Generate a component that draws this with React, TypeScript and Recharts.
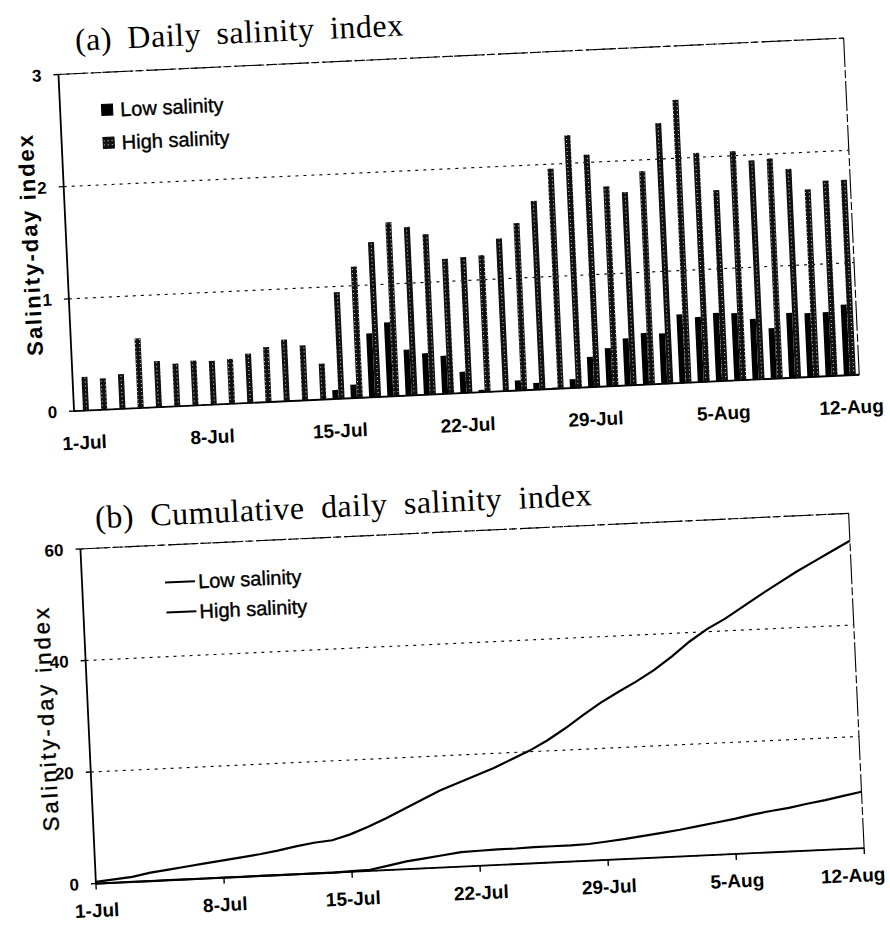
import React from "react";
import {
  BarChart,
  Bar,
  LineChart,
  Line,
  XAxis,
  YAxis,
  CartesianGrid,
  Legend,
  ReferenceLine,
} from "recharts";

// ---------- data ----------
const categories = [
  "1-Jul", "2-Jul", "3-Jul", "4-Jul", "5-Jul", "6-Jul", "7-Jul", "8-Jul", "9-Jul", "10-Jul",
  "11-Jul", "12-Jul", "13-Jul", "14-Jul", "15-Jul", "16-Jul", "17-Jul", "18-Jul", "19-Jul", "20-Jul",
  "21-Jul", "22-Jul", "23-Jul", "24-Jul", "25-Jul", "26-Jul", "27-Jul", "28-Jul", "29-Jul", "30-Jul",
  "31-Jul", "1-Aug", "2-Aug", "3-Aug", "4-Aug", "5-Aug", "6-Aug", "7-Aug", "8-Aug", "9-Aug",
  "10-Aug", "11-Aug", "12-Aug",
];

const tickLabels = ["1-Jul", "8-Jul", "15-Jul", "22-Jul", "29-Jul", "5-Aug", "12-Aug"];

const lowDaily = [
  0, 0, 0, 0, 0, 0, 0, 0, 0, 0, 0, 0, 0, 0,
  0.08, 0.12, 0.57, 0.66, 0.41, 0.37, 0.34, 0.19, 0.02, 0, 0.09, 0.06, 0.01, 0.08,
  0.27, 0.34, 0.42, 0.46, 0.45, 0.61, 0.58, 0.61, 0.6, 0.54, 0.45, 0.58, 0.57, 0.57, 0.63,
];

const highDaily = [
  0.3, 0.28, 0.31, 0.62, 0.41, 0.38, 0.4, 0.39, 0.4, 0.44, 0.49, 0.55, 0.49, 0.32,
  0.95, 1.17, 1.38, 1.55, 1.5, 1.43, 1.2, 1.21, 1.22, 1.36, 1.49, 1.68, 1.96, 2.25,
  2.07, 1.78, 1.72, 1.9, 2.32, 2.52, 2.04, 1.7, 2.04, 1.95, 1.96, 1.86, 1.67, 1.74, 1.74,
];

const lowCumulative = [
  0, 0, 0, 0, 0, 0, 0, 0, 0, 0, 0, 0, 0, 0,
  0.1, 0.2, 0.8, 1.4, 1.8, 2.2, 2.6, 2.7, 2.8, 2.8, 2.9, 2.9, 2.9, 3.0,
  3.3, 3.6, 4.0, 4.4, 4.8, 5.3, 5.8, 6.3, 6.9, 7.4, 7.8, 8.4, 8.9, 9.5, 10.1,
];

const highCumulative = [
  0.3, 0.6, 0.9, 1.5, 1.9, 2.3, 2.7, 3.1, 3.5, 3.9, 4.4, 5.0, 5.5, 5.8,
  6.7, 7.9, 9.3, 10.8, 12.3, 13.8, 15.0, 16.2, 17.4, 18.8, 20.2, 21.9, 23.9, 26.1,
  28.2, 30.0, 31.7, 33.6, 35.9, 38.4, 40.5, 42.2, 44.2, 46.2, 48.1, 50.0, 51.7, 53.4, 55.1,
];

const dailyTicks = [0, 1, 2, 3];
const cumulativeTicks = [0, 20, 40, 60];

const seriesNames = ["Low salinity", "High salinity"];
const titles = ["(a) Daily salinity index", "(b) Cumulative daily salinity index"];
const yTitle = "Salinity-day index";

const dailyData = categories.map((date, i) => ({
  date,
  pos: i,
  low: lowDaily[i],
  high: highDaily[i],
}));

const cumulativeData = categories.map((date, i) => ({
  date,
  low: lowCumulative[i],
  high: highCumulative[i],
}));

const tickPositions = tickLabels.map((l) => categories.indexOf(l));

// ---------- styles ----------
const SANS = "'Liberation Sans', Arial, Helvetica, sans-serif";
const SERIF = "'Liberation Serif', 'Times New Roman', Times, serif";
const INK = "#000";

const xTickStyle = { fill: INK, fontSize: 19, fontWeight: 700, fontFamily: SANS };
const yTickStyle = { fill: INK, fontSize: 17, fontWeight: 700, fontFamily: SANS };
const axisLineStyle = { stroke: INK, strokeWidth: 1.8 };
const tickLineStyle = { stroke: INK, strokeWidth: 1.4 };
const borderDash = "30 3 8 3";

const orderPayload = (payload: any[]) =>
  [...(payload || [])].sort(
    (a, b) => seriesNames.indexOf(a.value) - seriesNames.indexOf(b.value)
  );

const makeYTitle = (xOffset: number, bold: boolean) => (props: any) => {
  const vb = props.viewBox || {};
  const cx = (vb.x || 0) + xOffset;
  const cy = (vb.y || 0) + (vb.height || 0) / 2;
  return (
    <text
      x={cx}
      y={cy}
      transform={`rotate(-90, ${cx}, ${cy})`}
      textAnchor="middle"
      dominantBaseline="central"
      fontFamily={SANS}
      fontSize={22}
      fontWeight={bold ? 700 : 400}
      letterSpacing={bold ? 2 : 3}
      fill={INK}
      stroke={bold ? "none" : INK}
      strokeWidth={bold ? 0 : 0.4}
    >
      {yTitle}
    </text>
  );
};

const DailyLegend = (props: any) => {
  const payload = orderPayload(props.payload);
  return (
    <svg width={150} height={60} style={{ overflow: "visible", display: "block" }}>
      {payload.map((e: any, i: number) => (
        <g key={i} transform={`translate(0, ${i * 33})`}>
          <rect x={0.5} y={6} width={11} height={11} fill={e.color} stroke={INK} strokeWidth={1} />
          <text
            x={19}
            y={11.5}
            dy="0.36em"
            fontFamily={SANS}
            fontSize={20}
            fill={INK}
            stroke={INK}
            strokeWidth={0.4}
          >
            {e.value}
          </text>
        </g>
      ))}
    </svg>
  );
};

const CumulativeLegend = (props: any) => {
  const payload = orderPayload(props.payload);
  return (
    <svg width={150} height={60} style={{ overflow: "visible", display: "block" }}>
      {payload.map((e: any, i: number) => (
        <g key={i} transform={`translate(0, ${i * 30})`}>
          <line x1={0} x2={30} y1={11.5} y2={11.5} stroke={INK} strokeWidth={2} />
          <text
            x={33}
            y={11.5}
            dy="0.36em"
            fontFamily={SANS}
            fontSize={20}
            fill={INK}
            stroke={INK}
            strokeWidth={0.4}
          >
            {e.value}
          </text>
        </g>
      ))}
    </svg>
  );
};

// last label of panel (b) sits at the right edge; keep it inside the page
const CumulativeTick = (props: any) => {
  const { x, y, payload, index, visibleTicksCount } = props;
  const isLast = payload && payload.value === tickLabels[tickLabels.length - 1];
  return (
    <text
      x={x}
      y={y}
      dy="0.71em"
      dx={isLast ? 20 : 0}
      textAnchor={isLast ? "end" : "middle"}
      fill={INK}
      fontSize={19}
      fontWeight={700}
      fontFamily={SANS}
    >
      {payload ? payload.value : ""}
    </text>
  );
};

export default function App() {
  return (
    <div
      style={{
        position: "absolute",
        left: 0,
        top: 0,
        width: 890,
        height: 932,
        background: "#fff",
        overflow: "hidden",
      }}
    >
      <div
        style={{
          position: "absolute",
          left: 0,
          top: 0,
          width: 890,
          height: 932,
          transform: "rotate(-2.65deg)",
          transformOrigin: "445px 466px",
        }}
      >
        <svg width={0} height={0} style={{ position: "absolute" }}>
          <defs>
            <pattern id="stipple" width={4} height={4} patternUnits="userSpaceOnUse">
              <rect width={4} height={4} fill="#111" />
              <rect x={1} y={1} width={1} height={1} fill="#e0e0e0" />
            </pattern>
          </defs>
        </svg>

        <svg
          width={890}
          height={932}
          style={{ position: "absolute", left: 0, top: 0, pointerEvents: "none" }}
        >
          <text
            x={95}
            y={34}
            fontFamily={SERIF}
            fontSize={32}
            letterSpacing={0.5}
            wordSpacing={7}
            fill={INK}
          >
            {titles[0]}
          </text>
          <text
            x={93}
            y={512}
            fontFamily={SERIF}
            fontSize={32}
            letterSpacing={0.5}
            wordSpacing={8}
            fill={INK}
          >
            {titles[1]}
          </text>
        </svg>

        <div style={{ position: "absolute", left: 0, top: 0 }}>
          <BarChart
            width={890}
            height={460}
            data={dailyData}
            margin={{ top: 57, right: 27, left: 0, bottom: 20 }}
            barCategoryGap="16%"
            barGap={0}
          >
            <CartesianGrid
              xAxisId="labels"
              vertical={false}
              stroke={INK}
              strokeDasharray="3 5"
              strokeWidth={1.1}
            />
            <XAxis
              xAxisId="labels"
              dataKey="date"
              ticks={tickLabels}
              interval={0}
              tickLine={false}
              axisLine={false}
              tickSize={6}
              tickMargin={18}
              height={45}
              tick={xTickStyle}
            />
            <XAxis
              xAxisId="aMarks"
              type="number"
              dataKey="pos"
              domain={[0, categories.length]}
              allowDataOverflow
              ticks={tickPositions}
              tick={false}
              tickSize={6}
              height={1}
              axisLine={axisLineStyle}
              tickLine={tickLineStyle}
            />
            <YAxis
              domain={[0, 3]}
              ticks={dailyTicks}
              width={77}
              tickSize={5}
              tickMargin={12}
              tick={yTickStyle}
              axisLine={axisLineStyle}
              tickLine={tickLineStyle}
              label={makeYTitle(41, true)}
            />
            <ReferenceLine
              xAxisId="aMarks"
              y={3}
              stroke={INK}
              strokeWidth={1.1}
              strokeDasharray={borderDash}
            />
            <ReferenceLine
              xAxisId="aMarks"
              x={categories.length}
              stroke={INK}
              strokeWidth={1.1}
              strokeDasharray={borderDash}
            />
            <Bar
              xAxisId="labels"
              dataKey="low"
              name={seriesNames[0]}
              fill={INK}
              isAnimationActive={false}
            />
            <Bar
              xAxisId="labels"
              dataKey="high"
              name={seriesNames[1]}
              fill="url(#stipple)"
              isAnimationActive={false}
            />
            <Legend
              layout="vertical"
              verticalAlign="middle"
              align="center"
              wrapperStyle={{ left: 118, top: 83, width: 160, height: 70 }}
              content={DailyLegend}
            />
          </BarChart>
        </div>

        <div style={{ position: "absolute", left: 0, top: 460 }}>
          <LineChart
            width={890}
            height={472}
            data={cumulativeData}
            margin={{ top: 72, right: 44, left: 0, bottom: 25 }}
          >
            <CartesianGrid
              vertical={false}
              stroke={INK}
              strokeDasharray="3 5"
              strokeWidth={1.1}
            />
            <XAxis
              dataKey="date"
              scale="point"
              padding={{ left: 0, right: 0 }}
              ticks={tickLabels}
              interval={0}
              tickSize={6}
              tickMargin={14}
              height={40}
              tick={<CumulativeTick />}
              axisLine={axisLineStyle}
              tickLine={tickLineStyle}
            />
            <YAxis
              domain={[0, 60]}
              ticks={cumulativeTicks}
              width={77}
              tickSize={5}
              tickMargin={12}
              tick={yTickStyle}
              axisLine={axisLineStyle}
              tickLine={tickLineStyle}
              label={makeYTitle(35, false)}
            />
            <ReferenceLine
              y={60}
              stroke={INK}
              strokeWidth={1.1}
              strokeDasharray={borderDash}
            />
            <ReferenceLine
              x={categories[categories.length - 1]}
              stroke={INK}
              strokeWidth={1.1}
              strokeDasharray={borderDash}
            />
            <Line
              type="linear"
              dataKey="low"
              name={seriesNames[0]}
              stroke={INK}
              strokeWidth={2.2}
              dot={false}
              activeDot={false}
              isAnimationActive={false}
            />
            <Line
              type="linear"
              dataKey="high"
              name={seriesNames[1]}
              stroke={INK}
              strokeWidth={2.2}
              dot={false}
              activeDot={false}
              isAnimationActive={false}
            />
            <Legend
              layout="vertical"
              verticalAlign="middle"
              align="center"
              wrapperStyle={{ left: 160, top: 98, width: 160, height: 70 }}
              content={CumulativeLegend}
            />
          </LineChart>
        </div>
      </div>
    </div>
  );
}
